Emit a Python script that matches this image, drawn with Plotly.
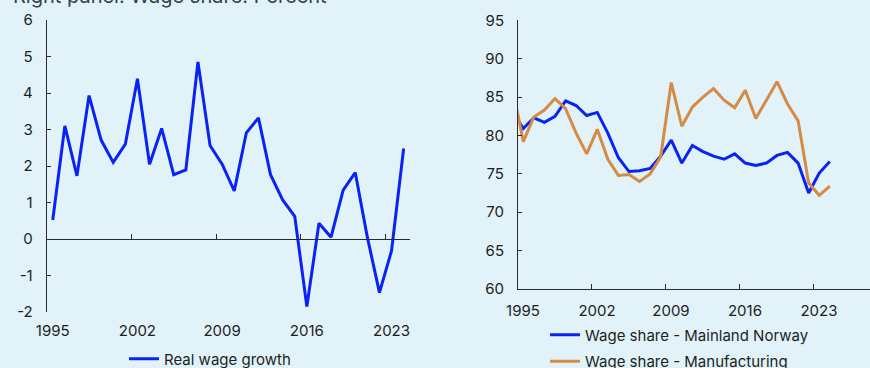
import plotly.graph_objects as go

# ---- Data -------------------------------------------------------------
# Left panel: real wage growth, annual, percent
wage_years = list(range(1995, 2025))
real_wage_growth = [
    0.52, 3.10, 1.73, 3.93, 2.71, 2.10, 2.60, 4.39, 2.05, 3.03,
    1.76, 1.89, 4.85, 2.56, 2.05, 1.32, 2.91, 3.32, 1.76, 1.07,
    0.62, -1.85, 0.43, 0.05, 1.34, 1.82, 0.05, -1.47, -0.32, 2.48,
]

# Right panel: wage shares, annual, percent
share_years = list(range(1994, 2025))
share_mainland = [
    83.1, 80.9, 82.3, 81.7, 82.5, 84.5, 83.9, 82.6, 83.0, 80.3,
    77.1, 75.3, 75.4, 75.7, 77.3, 79.4, 76.4, 78.7, 77.9, 77.3,
    76.9, 77.6, 76.4, 76.1, 76.4, 77.4, 77.8, 76.4, 72.5, 75.1,
    76.6,
]
share_manufacturing = [
    86.1, 79.2, 82.4, 83.3, 84.8, 83.5, 80.3, 77.6, 80.8, 76.9,
    74.8, 74.9, 74.0, 75.0, 77.2, 86.9, 81.2, 83.7, 85.0, 86.1,
    84.6, 83.6, 85.9, 82.2, 84.6, 87.0, 84.1, 81.9, 73.8, 72.2,
    73.4,
]

year_ticks = [1995, 2002, 2009, 2016, 2023]
left_yticks = [-2, -1, 0, 1, 2, 3, 4, 5, 6]
right_yticks = [60, 65, 70, 75, 80, 85, 90, 95]

# Annual observations are centred within their year
wage_x = [y + 0.5 for y in wage_years]
share_x = [y + 0.5 for y in share_years]

# ---- Styling ----------------------------------------------------------
W, H = 870, 368
BG = "#e1f3f8"
BLUE = "#0a23f5"
ORANGE = "#d58b45"
AXIS = "#2b2b2b"
TEXT = "#1e1e1e"
FONT = "Inter"


def px_x(p):
    return p / W


def px_y(p):
    return 1 - p / H


left_dom_x = [px_x(46.7), px_x(409.7)]
left_dom_y = [px_y(312), px_y(20)]
right_dom_x = [px_x(518), 1.0]
right_dom_y = [px_y(289), px_y(20.3)]

left_range_x = [1995, 2025]
right_range_x = [1995, 1995 + (870 - 518) / 10.57]
left_range_y = [-2, 6]
zero_pos = left_dom_y[0] + (0 - left_range_y[0]) / (left_range_y[1] - left_range_y[0]) * (
    left_dom_y[1] - left_dom_y[0]
)

# half a year in pixels, so year labels sit in the middle of their year
left_half_year = round((left_dom_x[1] - left_dom_x[0]) * W / (left_range_x[1] - left_range_x[0]) / 2)
right_half_year = round((right_dom_x[1] - right_dom_x[0]) * W / (right_range_x[1] - right_range_x[0]) / 2)

fig = go.Figure()

fig.add_trace(
    go.Scatter(
        x=wage_x, y=real_wage_growth, mode="lines", name="Real wage growth",
        line=dict(color=BLUE, width=3), xaxis="x", yaxis="y", legend="legend",
    )
)
fig.add_trace(
    go.Scatter(
        x=share_x, y=share_mainland, mode="lines", name="Wage share - Mainland Norway",
        line=dict(color=BLUE, width=3), xaxis="x2", yaxis="y2", legend="legend2",
        legendgroup="a",
    )
)
fig.add_trace(
    go.Scatter(
        x=share_x, y=share_manufacturing, mode="lines", name="Wage share - Manufacturing",
        line=dict(color=ORANGE, width=3), xaxis="x2", yaxis="y2", legend="legend2",
        legendgroup="b",
    )
)
# carrier for the zero-line axis of the left panel
fig.add_trace(
    go.Scatter(x=[1995], y=[0], mode="markers", marker=dict(opacity=0),
               xaxis="x3", yaxis="y", showlegend=False, hoverinfo="skip")
)

tick_font = dict(family=FONT, size=15, color=TEXT)

fig.update_layout(
    width=W, height=H,
    margin=dict(l=0, r=0, t=0, b=0, autoexpand=False),
    paper_bgcolor=BG, plot_bgcolor=BG,
    font=dict(family=FONT, size=15, color=TEXT),
    showlegend=True,
    # left panel: labels along the bottom
    xaxis=dict(
        domain=left_dom_x, anchor="y", range=left_range_x,
        tickvals=year_ticks, ticktext=[str(v) for v in year_ticks],
        showline=False, showgrid=False, zeroline=False, ticks="",
        tickfont=tick_font, ticklabelstandoff=8, ticklabelshift=left_half_year,
        automargin=False,
    ),
    # left panel: horizontal axis line drawn at zero
    xaxis3=dict(
        overlaying="x", anchor="free", position=zero_pos, range=left_range_x,
        tickvals=year_ticks, showticklabels=False,
        showline=True, linecolor=AXIS, linewidth=1,
        ticks="inside", ticklen=5, tickcolor=AXIS, tickwidth=1,
        showgrid=False, zeroline=False, automargin=False,
    ),
    yaxis=dict(
        domain=left_dom_y, anchor="x", range=left_range_y,
        tickvals=left_yticks, ticktext=[str(v) for v in left_yticks],
        showline=True, linecolor=AXIS, linewidth=1,
        ticks="inside", ticklen=4, tickcolor=AXIS,
        showgrid=False, zeroline=False, tickfont=tick_font,
        ticklabelstandoff=10, automargin=False,
    ),
    xaxis2=dict(
        domain=right_dom_x, anchor="y2", range=right_range_x,
        tickvals=year_ticks, ticktext=[str(v) for v in year_ticks],
        showline=True, linecolor=AXIS, linewidth=1,
        ticks="inside", ticklen=5, tickcolor=AXIS,
        showgrid=False, zeroline=False, tickfont=tick_font,
        ticklabelstandoff=8, ticklabelshift=right_half_year, automargin=False,
    ),
    yaxis2=dict(
        domain=right_dom_y, anchor="x2", range=[60, 95],
        tickvals=right_yticks, ticktext=[str(v) for v in right_yticks],
        showline=True, linecolor=AXIS, linewidth=1,
        ticks="inside", ticklen=4, tickcolor=AXIS,
        showgrid=False, zeroline=False, tickfont=tick_font,
        ticklabelstandoff=10, automargin=False,
    ),
    legend=dict(
        x=px_x(124), y=px_y(359), xanchor="left", yanchor="middle",
        bgcolor="rgba(0,0,0,0)", font=dict(family=FONT, size=15, color=TEXT),
        itemwidth=30,
    ),
    legend2=dict(
        x=px_x(545), y=px_y(348), xanchor="left", yanchor="middle",
        bgcolor="rgba(0,0,0,0)", font=dict(family=FONT, size=15, color=TEXT),
        itemwidth=30, tracegroupgap=4,
    ),
    annotations=[
        dict(
            text="Right panel: Wage share. Percent", xref="paper", yref="paper",
            x=px_x(11), y=px_y(-4), xanchor="left", yanchor="middle",
            showarrow=False, font=dict(family=FONT, size=20, color="#34404f"),
        )
    ],
)

fig.write_html("out.html")
